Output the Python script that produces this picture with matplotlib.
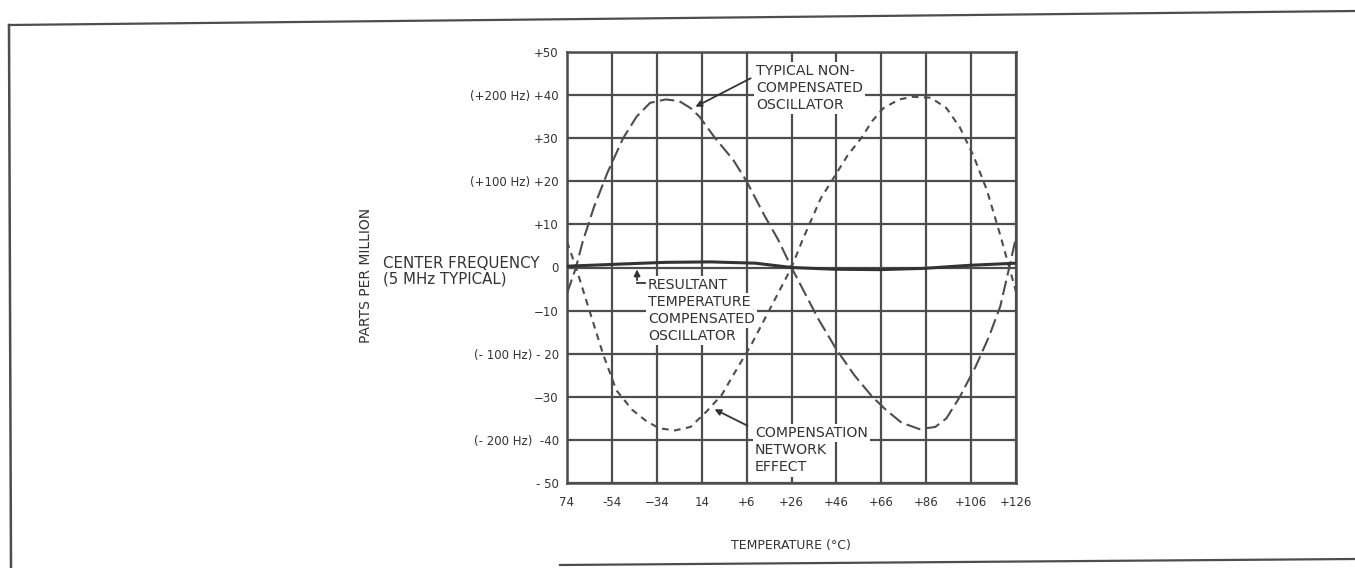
import matplotlib
matplotlib.use("Agg")
import matplotlib.pyplot as plt
from matplotlib.lines import Line2D

# ---------------- data ----------------
x_ticks = [-74, -54, -34, -14, 6, 26, 46, 66, 86, 106, 126]
x_tick_labels = ["74", "-54", "\u221234", "14", "+6", "+26", "+46", "+66", "+86", "+106", "+126"]
y_ticks = [50, 40, 30, 20, 10, 0, -10, -20, -30, -40, -50]
y_tick_labels = ["+50", "(+200 Hz) +40", "+30", "(+100 Hz) +20", "+10", "0",
                 "\u221210", "(- 100 Hz) - 20", "\u221230", "(- 200 Hz)  -40", "- 50"]

# typical non-compensated oscillator (long dashes)
noncomp_t = [-74, -70, -67, -62, -56, -49, -43, -37, -30, -24, -19, -15, -8, 0, 6,
             14, 20, 26, 31, 38, 46, 54, 62, 68, 75, 83, 90, 95, 101, 108, 114, 119, 123, 126]
noncomp_ppm = [-6, 0, 6, 14, 22, 30, 35, 38.2, 39, 38.6, 37, 35, 30, 25, 20,
               12, 6.5, 0, -5, -12, -19, -25, -30, -33, -36, -37.5, -37, -35, -30, -23, -16, -9, 0, 7]

# compensation network effect (short dashes)
comp_t = [-74, -70, -64, -58, -52, -45, -39, -33, -26, -19, -12, -5, 0, 8, 14, 20, 26,
          31, 39, 45, 51, 57, 62, 67, 74, 80, 88, 95, 101, 107, 113, 119, 123, 126]
comp_ppm = [6, 0, -10, -20, -28.5, -33, -35.5, -37.3, -37.8, -37, -33.5, -29.5, -25, -18, -12, -6, 0,
            6.5, 16, 21, 26, 30, 34, 37, 39, 39.6, 39.4, 37, 32.5, 26, 18, 7.5, 0, -5.6]

# resultant temperature compensated oscillator (solid)
result_t = [-74, -50, -30, -10, 10, 26, 45, 65, 85, 105, 126]
result_ppm = [0.3, 0.8, 1.2, 1.3, 1.0, 0.0, -0.4, -0.5, -0.2, 0.5, 1.0]

# ---------------- figure ----------------
W, H = 1355, 568
fig = plt.figure(figsize=(W / 100, H / 100), dpi=100)
fig.patch.set_facecolor("white")

GRAY = "#4d4d4d"
TXT = "#333333"
plt.rcParams["font.family"] = "DejaVu Sans"

left, right, top, bottom = 567, 1016, 52, 483
ax = fig.add_axes([left / W, 1 - bottom / H, (right - left) / W, (bottom - top) / H])
ax.set_xlim(-74, 126)
ax.set_ylim(-50, 50)
ax.set_xticks(x_ticks)
ax.set_xticklabels(x_tick_labels, fontsize=8.5, color=TXT)
ax.set_yticks(y_ticks)
ax.set_yticklabels(y_tick_labels, fontsize=8.5, color=TXT)
ax.tick_params(axis="both", length=0, pad=6)
ax.tick_params(axis="x", pad=9)
ax.grid(True, color=GRAY, linewidth=1.6, zorder=0)
ax.set_axisbelow(True)
for s in ax.spines.values():
    s.set_color(GRAY)
    s.set_linewidth(1.8)

ax.plot(noncomp_t, noncomp_ppm, color=GRAY, lw=1.5, dashes=(7, 2.6), zorder=3)
ax.plot(comp_t, comp_ppm, color=GRAY, lw=1.5, dashes=(3.2, 2.6), zorder=3)
ax.plot(result_t, result_ppm, color=TXT, lw=2.2, zorder=3)

# ---------------- annotations ----------------
tkw = dict(fontsize=10.2, color=TXT, va="center", ha="left", zorder=5,
           bbox=dict(facecolor="white", edgecolor="none", pad=1.5))

for i, line in enumerate(["TYPICAL NON-", "COMPENSATED", "OSCILLATOR"]):
    ax.text(10.2, 45.5 - i * 3.9, line, **tkw)
for i, line in enumerate(["RESULTANT", "TEMPERATURE", "COMPENSATED", "OSCILLATOR"]):
    ax.text(-37.9, -4.1 - i * 3.9, line, **tkw)
for i, line in enumerate(["COMPENSATION", "NETWORK", "EFFECT"]):
    ax.text(9.7, -38.4 - i * 4.0, line, **tkw)

akw = dict(arrowstyle="-|>", color=TXT, lw=1.3, mutation_scale=9)
ax.annotate("", xy=(-17.9, 37.0), xytext=(8.9, 44.2), arrowprops=akw, zorder=6)
ax.annotate("", xy=(-9.4, -32.6), xytext=(7.5, -37.0), arrowprops=akw, zorder=6)
ax.annotate("", xy=(-42.8, 0.2), xytext=(-42.8, -3.6), arrowprops=akw, zorder=6)
ax.plot([-42.8, -39.3], [-3.6, -3.6], color=TXT, lw=1.3, zorder=6)

fig.text(383 / W, 1 - 263 / H, "CENTER FREQUENCY", fontsize=10.8, color=TXT,
         ha="left", va="center")
fig.text(383 / W, 1 - 279 / H, "(5 MHz TYPICAL)", fontsize=10.8, color=TXT,
         ha="left", va="center")
fig.text(366 / W, 1 - 275 / H, "PARTS PER MILLION", fontsize=10, color=TXT,
         rotation=90, ha="center", va="center")
fig.text(791 / W, 1 - 545 / H, "TEMPERATURE (\u00b0C)", fontsize=9, color=TXT,
         ha="center", va="center")

# ---------------- page frame ----------------
fig.add_artist(Line2D([9 / W, 1.0], [1 - 25 / H, 1 - 11 / H], transform=fig.transFigure,
                      color=GRAY, lw=1.6))
fig.add_artist(Line2D([9 / W, 11 / W], [1 - 25 / H, 0.0], transform=fig.transFigure,
                      color=GRAY, lw=1.8))
fig.add_artist(Line2D([560 / W, 1.0], [1 - 565 / H, 1 - 559 / H], transform=fig.transFigure,
                      color=GRAY, lw=1.6))

fig.savefig("out.png", dpi=100, facecolor="white")
